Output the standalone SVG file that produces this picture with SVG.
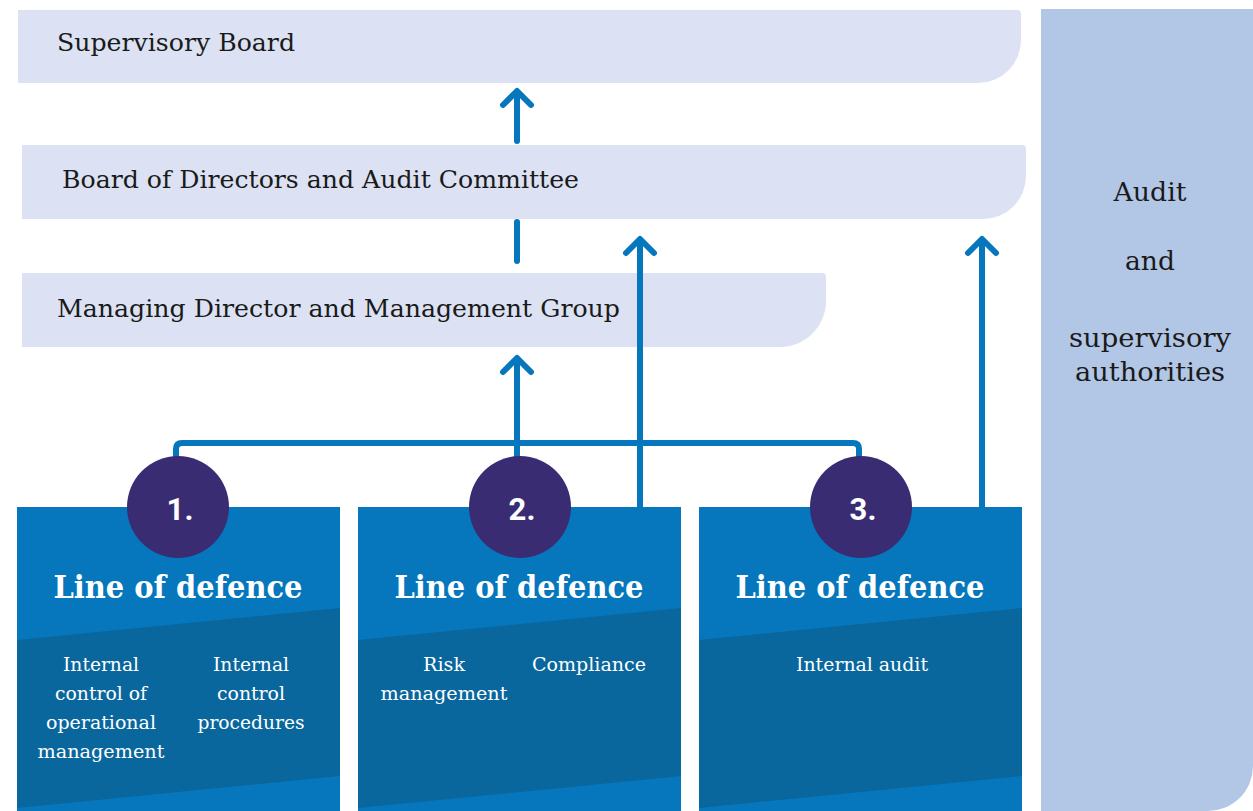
<svg xmlns="http://www.w3.org/2000/svg" width="1253" height="811" viewBox="0 0 1253 811">
<style>
.bar{fill:#DCE2F3}
.barText{font-family:"DejaVu Serif","Liberation Serif",serif;font-size:25px;fill:#1a1a1a}
.panel{fill:#B2C6E6}
.panelText{font-family:"DejaVu Serif","Liberation Serif",serif;font-size:26px;fill:#1a1a1a;text-anchor:middle}
.box{fill:#0677BD}
.band{fill:#09679E}
.circ{fill:#392C72}
.num{font-family:Roboto,"Liberation Sans",sans-serif;font-weight:bold;font-size:31px;fill:#fff;text-anchor:middle}
.title{font-family:"DejaVu Serif","Liberation Serif",serif;font-weight:bold;font-size:32px;fill:#fff;text-anchor:middle}
.sub{font-family:"DejaVu Serif","Liberation Serif",serif;font-size:18px;fill:#fff;text-anchor:middle}
.conn{fill:none;stroke:#0677BD;stroke-width:6;stroke-linecap:round;stroke-linejoin:round}
</style>
<rect width="1253" height="811" fill="#fff"/>
<g id="audit-authorities">
<path class="panel" d="M1041,9 H1253 V766 A45 45 0 0 1 1208 811 H1041 Z"/>
<text class="panelText" x="1150" y="201" textLength="73" lengthAdjust="spacingAndGlyphs">Audit</text>
<text class="panelText" x="1150" y="270" textLength="50" lengthAdjust="spacingAndGlyphs">and</text>
<text class="panelText" x="1150" y="347" textLength="162" lengthAdjust="spacingAndGlyphs">supervisory</text>
<text class="panelText" x="1150" y="381" textLength="150" lengthAdjust="spacingAndGlyphs">authorities</text>
</g>
<g id="supervisory-board">
<path class="bar" d="M18,10 H1017 Q1021,10 1021,14 V40 A43 43 0 0 1 978 83 H18 Z"/>
<text class="barText" x="57" y="51" textLength="238" lengthAdjust="spacingAndGlyphs">Supervisory Board</text>
</g>
<g id="board-of-directors">
<path class="bar" d="M22,145 H1022 Q1026,145 1026,149 V176 A43 43 0 0 1 983 219 H22 Z"/>
<text class="barText" x="62" y="188" textLength="517" lengthAdjust="spacingAndGlyphs">Board of Directors and Audit Committee</text>
</g>
<g id="managing-director">
<path class="bar" d="M22,273 H822 Q826,273 826,277 V301 A46 46 0 0 1 780 347 H22 Z"/>
<text class="barText" x="57" y="317" textLength="563" lengthAdjust="spacingAndGlyphs">Managing Director and Management Group</text>
</g>
<g id="connectors">
<path class="conn" d="M176,458 V449 Q176,443 182,443 H853 Q859,443 859,449 V458"/>
<path class="conn" d="M517,458 V360"/>
<path class="conn" d="M503,372 L517,358 L531,372"/>
<path class="conn" d="M517,222 V261"/>
<path class="conn" d="M517,141 V93"/>
<path class="conn" d="M503,105 L517,91 L531,105"/>
<path class="conn" d="M640,507 V241"/>
<path class="conn" d="M626,253 L640,239 L654,253"/>
<path class="conn" d="M982,507 V241"/>
<path class="conn" d="M968,253 L982,239 L996,253"/>
</g>
<g id="line-1">
<rect class="box" x="17" y="507" width="323" height="304"/>
<path class="band" d="M17,640 L340,608 L340,776 L17,808 Z"/>
<circle class="circ" cx="178" cy="507" r="51"/>
<text class="num" x="180" y="520">1.</text>
<text class="title" x="178" y="598" textLength="249" lengthAdjust="spacingAndGlyphs">Line of defence</text>
<text class="sub" x="101" y="671" textLength="76" lengthAdjust="spacingAndGlyphs">Internal</text>
<text class="sub" x="101" y="700" textLength="92" lengthAdjust="spacingAndGlyphs">control of</text>
<text class="sub" x="101" y="729" textLength="110" lengthAdjust="spacingAndGlyphs">operational</text>
<text class="sub" x="101" y="758" textLength="127" lengthAdjust="spacingAndGlyphs">management</text>
<text class="sub" x="251" y="671" textLength="76" lengthAdjust="spacingAndGlyphs">Internal</text>
<text class="sub" x="251" y="700" textLength="68" lengthAdjust="spacingAndGlyphs">control</text>
<text class="sub" x="251" y="729" textLength="107" lengthAdjust="spacingAndGlyphs">procedures</text>
</g>
<g id="line-2">
<rect class="box" x="358" y="507" width="323" height="304"/>
<path class="band" d="M358,640 L681,608 L681,776 L358,808 Z"/>
<circle class="circ" cx="520" cy="507" r="51"/>
<text class="num" x="522" y="520">2.</text>
<text class="title" x="519" y="598" textLength="249" lengthAdjust="spacingAndGlyphs">Line of defence</text>
<text class="sub" x="444" y="671" textLength="42" lengthAdjust="spacingAndGlyphs">Risk</text>
<text class="sub" x="444" y="700" textLength="127" lengthAdjust="spacingAndGlyphs">management</text>
<text class="sub" x="589" y="671" textLength="114" lengthAdjust="spacingAndGlyphs">Compliance</text>
</g>
<g id="line-3">
<rect class="box" x="699" y="507" width="323" height="304"/>
<path class="band" d="M699,640 L1022,608 L1022,776 L699,808 Z"/>
<circle class="circ" cx="861" cy="507" r="51"/>
<text class="num" x="863" y="520">3.</text>
<text class="title" x="860" y="598" textLength="249" lengthAdjust="spacingAndGlyphs">Line of defence</text>
<text class="sub" x="862" y="671" textLength="132" lengthAdjust="spacingAndGlyphs">Internal audit</text>
</g>
</svg>
